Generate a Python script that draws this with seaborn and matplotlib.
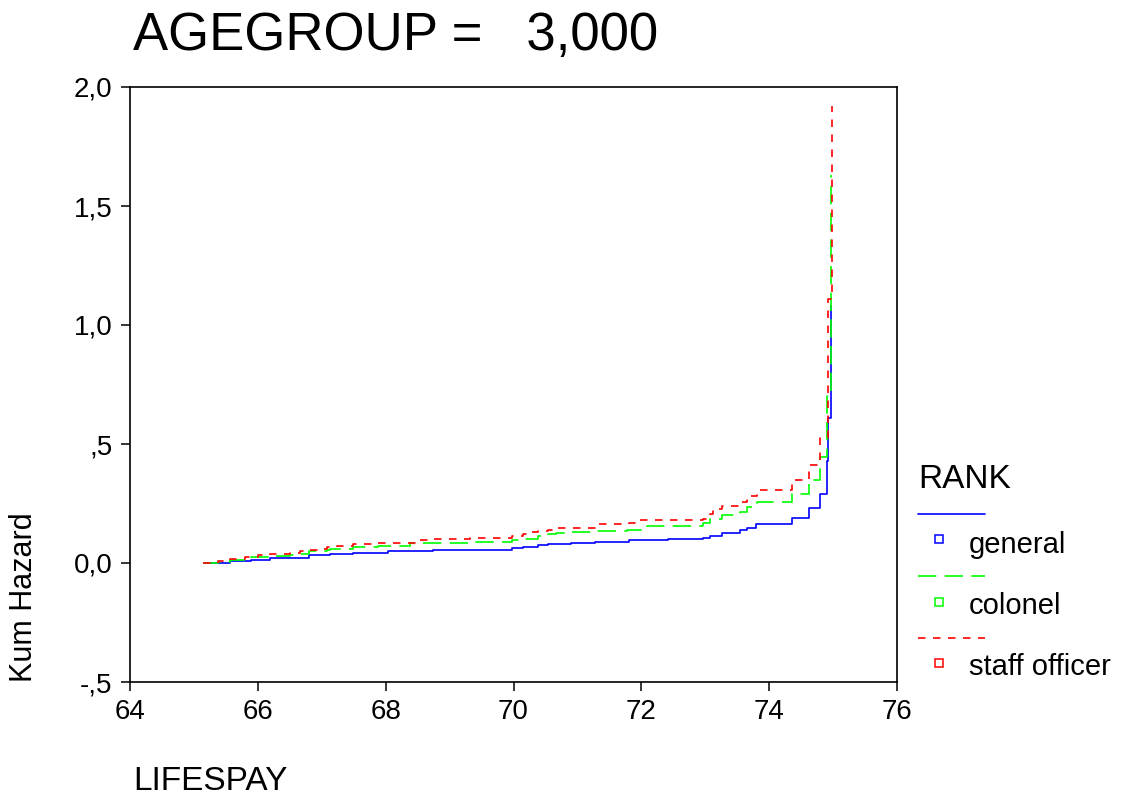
import numpy as np
import pandas as pd
import matplotlib
matplotlib.use("Agg")
import matplotlib.pyplot as plt
from matplotlib.lines import Line2D
import seaborn as sns

# Cumulative hazard step curves by rank (age group 3)
general_x = [65.17, 65.56, 65.89, 66.19, 66.80, 67.13, 67.49, 68.04, 68.74, 69.98,
             70.15, 70.38, 70.54, 70.90, 71.28, 71.81, 72.42, 72.97, 73.08, 73.26,
             73.55, 73.66, 73.80, 74.36, 74.63, 74.80, 74.90, 74.92, 74.97]
general_y = [0.000, 0.010, 0.014, 0.020, 0.033, 0.039, 0.043, 0.049, 0.054, 0.063,
             0.069, 0.074, 0.080, 0.086, 0.090, 0.095, 0.100, 0.107, 0.115, 0.128,
             0.138, 0.147, 0.164, 0.190, 0.230, 0.290, 0.430, 0.610, 1.080]

colonel_x = [65.14, 65.38, 65.56, 65.89, 66.19, 66.50, 66.66, 66.80, 67.08, 67.13,
             67.49, 67.88, 68.38, 69.32, 69.98, 70.15, 70.38, 70.54, 70.67, 70.90,
             71.28, 71.78, 72.09, 72.97, 73.08, 73.26, 73.55, 73.66, 73.81, 74.36,
             74.63, 74.80, 74.90, 74.97]
colonel_y = [0.000, 0.004, 0.012, 0.024, 0.031, 0.035, 0.039, 0.049, 0.054, 0.059,
             0.066, 0.073, 0.083, 0.090, 0.095, 0.100, 0.112, 0.120, 0.126, 0.130,
             0.136, 0.140, 0.155, 0.166, 0.183, 0.200, 0.215, 0.235, 0.257, 0.290,
             0.348, 0.446, 0.700, 1.630]

staff_x = [65.14, 65.38, 65.46, 65.56, 65.80, 66.00, 66.19, 66.50, 66.66, 66.80,
           67.02, 67.08, 67.24, 67.49, 67.88, 68.49, 68.74, 69.32, 69.98, 70.15,
           70.23, 70.38, 70.54, 70.67, 71.28, 71.81, 71.90, 72.97, 73.08, 73.12,
           73.26, 73.55, 73.66, 73.81, 74.36, 74.63, 74.80, 74.92, 74.99]
staff_y = [0.002, 0.007, 0.012, 0.018, 0.024, 0.032, 0.039, 0.042, 0.049, 0.053,
           0.059, 0.067, 0.073, 0.079, 0.084, 0.095, 0.100, 0.105, 0.112, 0.120,
           0.129, 0.133, 0.140, 0.147, 0.162, 0.168, 0.179, 0.185, 0.204, 0.225,
           0.239, 0.257, 0.281, 0.305, 0.349, 0.412, 0.527, 1.110, 1.920]

ranks = ["general", "colonel", "staff officer"]
x_ticks = [64, 66, 68, 70, 72, 74, 76]
y_ticks = [-0.5, 0.0, 0.5, 1.0, 1.5, 2.0]
y_tick_labels = ["-,5", "0,0", ",5", "1,0", "1,5", "2,0"]

colors = {"general": "#0000ff", "colonel": "#00ff00", "staff officer": "#ff0000"}
dash_map = {"general": "", "colonel": (11, 5), "staff officer": (4.5, 4.5)}

frames = []
for name, xs, ys in [("general", general_x, general_y),
                     ("colonel", colonel_x, colonel_y),
                     ("staff officer", staff_x, staff_y)]:
    frames.append(pd.DataFrame({"LIFESPAY": xs, "hazard": ys, "RANK": name}))
df = pd.concat(frames, ignore_index=True)

sns.set_style("ticks")
plt.rcParams["font.family"] = ["Liberation Sans", "DejaVu Sans"]
plt.rcParams["text.color"] = "black"

W, H = 1132, 796
fig = plt.figure(figsize=(W / 100, H / 100), dpi=100)
ax = fig.add_axes([130 / W, 1 - 682 / H, (897 - 130) / W, (682 - 87) / H])

LW = 1.2
sns.lineplot(data=df, x="LIFESPAY", y="hazard", hue="RANK", style="RANK",
             hue_order=ranks, style_order=ranks, palette=colors, dashes=dash_map,
             drawstyle="steps-post", estimator=None, sort=False, units="RANK",
             linewidth=LW, legend=False, ax=ax)

ax.set_xlim(64, 76)
ax.set_ylim(-0.5, 2.0)
ax.set_xticks(x_ticks)
ax.set_xticklabels([str(t) for t in x_ticks])
ax.set_yticks(y_ticks)
ax.set_yticklabels(y_tick_labels)
ax.set_xlabel("")
ax.set_ylabel("")
for s in ax.spines.values():
    s.set_visible(True)
    s.set_color("black")
    s.set_linewidth(1.2)
ax.tick_params(axis="both", direction="out", length=6.5, width=1.1,
               color="black", labelsize=20, pad=6, labelcolor="black")

def fx(px):
    return px / W

def fy(py):
    return 1 - py / H

fig.text(fx(133), fy(36), "AGEGROUP =   3,000", fontsize=38, color="black",
         ha="left", va="center")
fig.text(fx(133), fy(781), "LIFESPAY", fontsize=24, color="black",
         ha="left", va="center")
fig.text(fx(24), fy(682), "Kum Hazard", fontsize=22, color="black", rotation=90,
         ha="center", va="bottom")

# Legend block to the right of the plot
fig.text(fx(918), fy(479), "RANK", fontsize=24, color="black", ha="left", va="center")
legend_rows = [(514, 539, 545), (576, 602, 606), (638, 663, 667)]
for name, (ly, my, ty) in zip(ranks, legend_rows):
    ln = Line2D([fx(918), fx(985)], [fy(ly), fy(ly)], transform=fig.transFigure,
                color=colors[name], linewidth=LW)
    if dash_map[name]:
        ln.set_dashes(dash_map[name])
    fig.add_artist(ln)
    fig.add_artist(Line2D([fx(939)], [fy(my)], transform=fig.transFigure,
                          marker="s", markersize=6, markerfacecolor="none",
                          markeredgecolor=colors[name], markeredgewidth=1.1,
                          linestyle="none"))
    fig.text(fx(969), fy(ty), name, fontsize=21, color="black", ha="left", va="center")

fig.savefig("out.png", dpi=100, facecolor="white")
